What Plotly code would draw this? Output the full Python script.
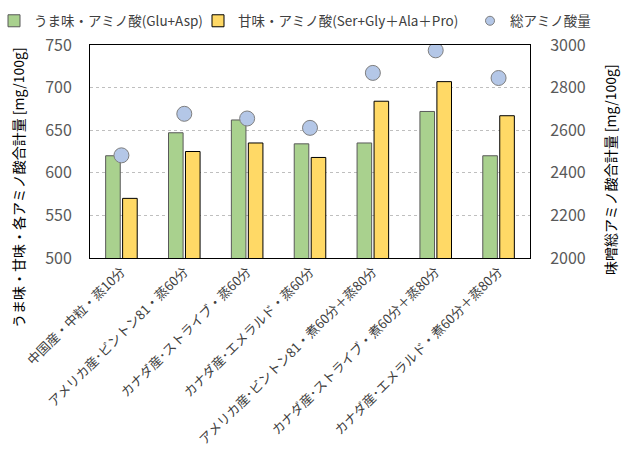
import plotly.graph_objects as go

categories = [
    "中国産・中粒・蒸10分",
    "アメリカ産･ビントン81・蒸60分",
    "カナダ産･ストライブ・蒸60分",
    "カナダ産･エメラルド・蒸60分",
    "アメリカ産･ビントン81・煮60分＋蒸80分",
    "カナダ産･ストライブ・煮60分＋蒸80分",
    "カナダ産･エメラルド・煮60分＋蒸80分",
]
umami = [620, 647, 662, 634, 635, 672, 620]
sweet = [570, 625, 635, 618, 684, 707, 667]
total = [2482, 2677, 2655, 2611, 2869, 2975, 2845]

FONT = "Noto Sans CJK JP"
L, R, T, B = 90, 91, 45, 203
W, H = 621, 461
PW = W - L - R
PH = H - T - B

def px_x(px):
    return (px - L) / PW

def px_y(py):
    return 1 - (py - T) / PH

fig = go.Figure()
fig.add_trace(go.Bar(
    x=categories, y=umami, name="うま味・アミノ酸(Glu+Asp)",
    marker=dict(color="#A9D18E", line=dict(color="#595959", width=1)),
    legend="legend4",
))
fig.add_trace(go.Bar(
    x=categories, y=sweet, name="甘味・アミノ酸(Ser+Gly＋Ala＋Pro)",
    marker=dict(color="#FFD966", line=dict(color="#000000", width=1)),
    legend="legend2",
))
fig.add_trace(go.Scatter(
    x=categories, y=total, name="総アミノ酸量", mode="markers",
    marker=dict(color="#B4C7E7", size=15, line=dict(color="#7F7F7F", width=1)),
    yaxis="y2", showlegend=False,
))
# legend-only entry (no drawn point) so the legend symbol is small like the reference
fig.add_trace(go.Scatter(
    x=[categories[0]], y=[None], name="総アミノ酸量", mode="markers",
    marker=dict(color="#B4C7E7", size=9, line=dict(color="#7F7F7F", width=1)),
    yaxis="y2", legend="legend3",
))

leg_common = dict(orientation="h", yanchor="middle", xanchor="left",
                  font=dict(family=FONT, size=13.5, color="#404040"),
                  bgcolor="rgba(0,0,0,0)", itemwidth=30)

fig.update_layout(
    width=W, height=H,
    margin=dict(l=L, r=R, t=T, b=B, pad=0, autoexpand=False),
    paper_bgcolor="white", plot_bgcolor="white",
    barmode="group", bargap=0.46, bargroupgap=0.14,
    font=dict(family=FONT, color="#404040"),
    showlegend=True,
    legend4=dict(x=px_x(-6), y=px_y(21), **leg_common),
    legend2=dict(x=px_x(198), y=px_y(21), **leg_common),
    legend3=dict(x=px_x(470), y=px_y(21), **leg_common),
    xaxis=dict(
        showline=True, linecolor="#000000", linewidth=1, mirror=True,
        tickangle=-45, tickfont=dict(family=FONT, size=13, color="#404040"),
        ticks="", showgrid=False, range=[-0.5, len(categories) - 0.5],
        automargin=False,
    ),
    yaxis=dict(
        range=[500, 750], dtick=50, showline=True, linecolor="#000000", linewidth=1,
        showgrid=True, gridcolor="#BFBFBF", griddash="3px,3px", gridwidth=1,
        tickfont=dict(family=FONT, size=16, color="#595959"),
        ticks="", ticklabelstandoff=14, zeroline=False, automargin=False,
    ),
    yaxis2=dict(
        range=[2000, 3000], dtick=200, overlaying="y", side="right",
        showline=True, linecolor="#000000", linewidth=1, showgrid=False,
        tickfont=dict(family=FONT, size=16, color="#595959"),
        ticks="", ticklabelstandoff=16, zeroline=False, automargin=False,
    ),
    annotations=[
        dict(text="うま味・甘味・各アミノ酸合計量 [mg/100g]", textangle=-90,
             xref="paper", yref="paper", x=px_x(18), y=px_y(188),
             xanchor="center", yanchor="middle", showarrow=False,
             font=dict(family=FONT, size=14, color="#000000")),
        dict(text="味噌総アミノ酸合計量 [mg/100g]", textangle=-90,
             xref="paper", yref="paper", x=px_x(610), y=px_y(170),
             xanchor="center", yanchor="middle", showarrow=False,
             font=dict(family=FONT, size=14, color="#000000")),
    ],
)

fig.write_html("out.html")
